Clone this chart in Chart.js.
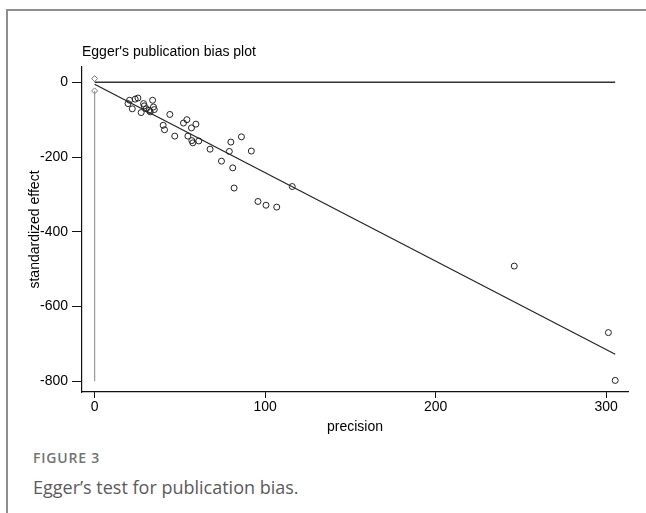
<!DOCTYPE html>
<html>
<head>
<meta charset="utf-8">
<script src="https://cdn.jsdelivr.net/npm/chart.js@4.4.1/dist/chart.umd.min.js"></script>
<style>
    html, body { margin: 0; padding: 0; background: #fff; }
    .egger_wrapper { position: relative; width: 646px; height: 513px; overflow: hidden; }
    .egger_frame {
        position: absolute; left: 6px; top: 9px; width: 700px; height: 600px;
        border-left: 2px solid #8e8e8e; border-top: 2px solid #8e8e8e;
    }
    .egger_canvas { position: absolute; left: 0; top: 0; }
    .egger_fig {
        position: absolute; left: 33px; top: 448px;
        font: 600 14px "Open Sans", sans-serif; color: #737373; letter-spacing: 0.8px;
    }
    .egger_caption {
        position: absolute; left: 33px; top: 475px;
        font: 400 18px "Open Sans", sans-serif; color: #5a5a5a;
    }
</style>
</head>
<body>
<div class="egger_wrapper">
    <div class="egger_frame"></div>
    <div class="egger_canvas"><canvas id="egger" width="646" height="440"></canvas></div>
    <div class="egger_fig">FIGURE 3</div>
    <div class="egger_caption">Egger’s test for publication bias.</div>
</div>
<script>
// studies: precision (x) vs standardized effect (y)
const precision = [20.5, 19.6, 22.1, 23.8, 25.4, 27.3, 28.7, 29.1, 30.3, 32, 32.6, 34, 34.5, 35,
    44.1, 40.2, 41, 47, 52.1, 54.1, 56.8, 59.4, 54.7, 57, 57.6, 61.1, 67.7, 74.4, 79.9, 79,
    86.1, 91.9, 81, 81.8, 95.8, 100.5, 106.8, 115.9, 246.1, 301.3, 305.3];
const stdEffect = [-48, -57, -71, -45, -42, -81, -57, -63, -71, -75, -79, -48, -66, -73,
    -86, -115, -127, -144, -109, -100, -122, -112, -144, -156, -162, -157, -179, -211, -160, -185,
    -146, -184, -229, -283, -319, -329, -334, -279, -492, -670, -798];

// fitted regression line, end points
const fitX = [0, 305.3];
const fitY = [-5, -728];

// reference line at zero
const zeroX = [0, 305.3];
const zeroY = [0, 0];

// intercept confidence interval on the y axis
const ciX = [0, 0];
const ciY = [-23, -800];
const ciMarkX = [0, 0];
const ciMarkY = [10, -23];

const xTicks = [0, 100, 200, 300];
const yTicks = [0, -200, -400, -600, -800];

function toPoints( xs, ys ) {
    return xs.map( function ( x, i ) { return { x: x, y: ys[i] }; } );
}

const axisFont = { family: '"Liberation Sans", Arial, sans-serif', size: 14 };

// chart title drawn at the left edge of the plot area
const titlePlugin = {
    id: 'eggerTitle',
    afterDraw( chart ) {
        const ctx = chart.ctx;
        ctx.save();
        ctx.fillStyle = '#000';
        ctx.font = '14px "Liberation Sans", Arial, sans-serif';
        ctx.textBaseline = 'middle';
        ctx.fillText( "Egger's publication bias plot", chart.chartArea.left, 52 );
        ctx.restore();
    }
};

const canvas = document.getElementById( 'egger' );

new Chart( canvas.getContext( '2d' ), {
    type: 'scatter',
    data: {
        datasets: [
            {
                data: toPoints( zeroX, zeroY ),
                showLine: true, borderColor: '#333', borderWidth: 1.4, pointRadius: 0
            },
            {
                data: toPoints( ciX, ciY ),
                showLine: true, borderColor: '#9a9a9a', borderWidth: 1.2, pointRadius: 0
            },
            {
                data: toPoints( fitX, fitY ),
                showLine: true, borderColor: '#222', borderWidth: 1.2, pointRadius: 0
            },
            {
                data: toPoints( ciMarkX, ciMarkY ),
                pointStyle: 'rectRot', pointRadius: 3, borderWidth: 1,
                borderColor: '#777', backgroundColor: '#fff'
            },
            {
                data: toPoints( precision, stdEffect ),
                pointRadius: 3, borderWidth: 1,
                borderColor: '#222', backgroundColor: 'rgba(0,0,0,0)'
            }
        ]
    },
    plugins: [ titlePlugin ],
    options: {
        responsive: false,
        animation: false,
        layout: { padding: { left: 0, top: 67, right: 18, bottom: 0 } },
        plugins: { legend: { display: false }, tooltip: { enabled: false } },
        scales: {
            x: {
                type: 'linear', min: -7.4, max: 312.8,
                afterBuildTicks: function ( scale ) {
                    scale.ticks = xTicks.map( function ( v ) { return { value: v }; } );
                },
                afterFit: function ( scale ) { scale.height = 48; },
                grid: { drawOnChartArea: false, tickLength: 6, tickColor: '#111', tickWidth: 1 },
                border: { display: true, color: '#111', width: 1.2 },
                ticks: { color: '#000', font: axisFont, padding: 1, maxRotation: 0 },
                title: { display: true, text: 'precision', color: '#000', font: axisFont, padding: { top: 11 } }
            },
            y: {
                type: 'linear', min: -829, max: 41,
                afterBuildTicks: function ( scale ) {
                    scale.ticks = yTicks.map( function ( v ) { return { value: v }; } );
                },
                afterFit: function ( scale ) { scale.width = 82; },
                grid: { drawOnChartArea: false, tickLength: 10, tickColor: '#111', tickWidth: 1 },
                border: { display: true, color: '#111', width: 1.2 },
                ticks: { color: '#000', font: axisFont, padding: 4 },
                title: { display: true, text: 'standardized effect', color: '#000', font: axisFont, padding: { top: 27 } }
            }
        }
    }
} );
</script>
</body>
</html>
